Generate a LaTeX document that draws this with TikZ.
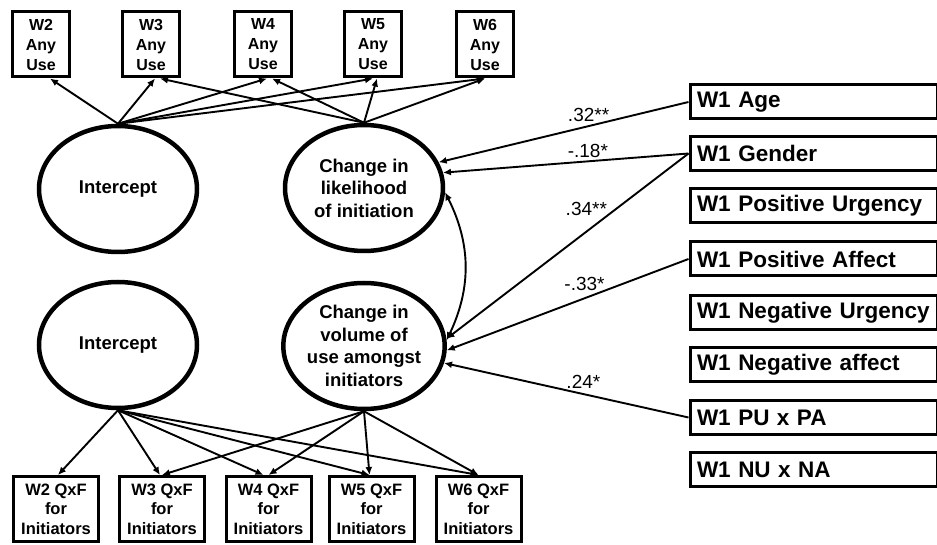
\documentclass[tikz,border=0pt]{standalone}
\usepackage{fontspec}
\setmainfont{Liberation Sans}
\usetikzlibrary{arrows.meta,shapes.geometric}

\tikzset{
  latent/.style={draw, ellipse, line width=4.5pt, minimum width=158pt, minimum height=126pt,
    inner sep=0pt, align=center, font=\bfseries\fontsize{18.5}{22.5}\selectfont},
  anyuse/.style={draw, line width=3pt, minimum width=57pt, minimum height=65pt,
    inner sep=0pt, align=center, font=\bfseries\fontsize{16}{20}\selectfont},
  qxf/.style={draw, line width=3pt, minimum width=85pt, minimum height=65pt,
    inner sep=0pt, align=center, font=\bfseries\fontsize{16.5}{19.5}\selectfont},
  cov/.style={draw, line width=3pt, anchor=west, text width=233pt, inner xsep=7pt,
    minimum height=34pt, align=left, font=\bfseries\fontsize{22.5}{24}\selectfont},
  arr/.style={line width=1.9pt, -{Latex[length=8pt,width=7pt]}},
  dblarr/.style={line width=1.9pt, {Latex[length=8pt,width=7pt]}-{Latex[length=8pt,width=7pt]}},
  lbl/.style={font=\fontsize{19}{22}\selectfont, inner sep=3pt}
}

\begin{document}
\begin{tikzpicture}[x=1pt, y=-1pt]
    \useasboundingbox (0,0) rectangle (937,545);

    % Latent growth factors
    \node[latent] (int1) at (118,189) {Intercept};
    \node[latent] (chg1) at (364,188) {Change in\\likelihood\\of initiation};
    \node[latent] (int2) at (118,345) {Intercept};
    \node[latent] (chg2) at (364,346) {Change in\\volume of\\use amongst\\initiators};

    % Any use indicators (top row)
    \node[anyuse] (use2) at (41,44.5) {W2\\Any\\Use};
    \node[anyuse] (use3) at (151,44.5) {W3\\Any\\Use};
    \node[anyuse] (use4) at (263,44.5) {W4\\Any\\Use};
    \node[anyuse] (use5) at (373,44.5) {W5\\Any\\Use};
    \node[anyuse] (use6) at (485,44.5) {W6\\Any\\Use};

    % QxF indicators (bottom row)
    \node[qxf] (qxf2) at (56,509) {W2 QxF\\for\\Initiators};
    \node[qxf] (qxf3) at (162,509) {W3 QxF\\for\\Initiators};
    \node[qxf] (qxf4) at (268.5,509) {W4 QxF\\for\\Initiators};
    \node[qxf] (qxf5) at (371.5,509) {W5 QxF\\for\\Initiators};
    \node[qxf] (qxf6) at (478.5,509) {W6 QxF\\for\\Initiators};

    % W1 covariates
    \node[cov] (age)    at (688.5,102)   {W1 Age};
    \node[cov] (gender) at (688.5,153.5) {W1 Gender};
    \node[cov] (posurg) at (688.5,206)   {W1 Positive Urgency};
    \node[cov] (posaff) at (688.5,259)   {W1 Positive Affect};
    \node[cov] (negurg) at (688.5,312.5) {W1 Negative Urgency};
    \node[cov] (negaff) at (688.5,364.5) {W1 Negative affect};
    \node[cov] (pupa)   at (688.5,417.5) {W1 PU x PA};
    \node[cov] (nuna)   at (688.5,469.5) {W1 NU x NA};

    % Loadings: likelihood part
    \draw[arr] (int1.north) -- ([xshift=9pt]use2.south);
    \draw[arr] (int1.north) -- ([xshift=4pt]use3.south);
    \draw[arr] (int1.north) -- ([xshift=4pt]use4.south);
    \draw[arr] (int1.north) -- (use5.south);
    \draw[arr] (int1.north) -- (use6.south);
    \draw[arr] (chg1.north) -- ([xshift=9pt]use3.south);
    \draw[arr] (chg1.north) -- ([xshift=9pt]use4.south);
    \draw[arr] (chg1.north) -- ([xshift=4pt]use5.south);
    \draw[arr] (chg1.north) -- (use6.south);

    % Loadings: volume part
    \draw[arr] (int2.south) -- ([xshift=2pt]qxf2.north);
    \draw[arr] (int2.south) -- ([xshift=-2pt]qxf3.north);
    \draw[arr] (int2.south) -- ([xshift=-5pt]qxf4.north);
    \draw[arr] (int2.south) -- ([xshift=-2pt]qxf5.north);
    \draw[arr] (int2.south) -- (qxf6.north);
    \draw[arr] (chg2.south) -- (qxf3.north);
    \draw[arr] (chg2.south) -- (qxf4.north);
    \draw[arr] (chg2.south) -- ([xshift=-2pt]qxf5.north);
    \draw[arr] (chg2.south) -- (qxf6.north);

    % Covariance between slopes
    \draw[dblarr] (chg1.-3) to[bend left=26] (chg2.4);

    % Covariate effects
    \draw[arr] (age.west) -- (chg1.19) node[lbl, pos=0.4, above] {.32**};
    \draw[arr] (gender.west) -- (chg1.11) node[lbl, pos=0.41, above] {-.18*};
    \draw[arr] (gender.west) -- (chg2.5) node[lbl, pos=0.3, left=5pt] {.34**};
    \draw[arr] (posaff.west) -- (chg2.-3) node[lbl, pos=0.43, above=4pt] {-.33*};
    \draw[arr] (pupa.west) -- (chg2.-12) node[lbl, pos=0.43, above=2pt] {.24*};
\end{tikzpicture}
\end{document}
